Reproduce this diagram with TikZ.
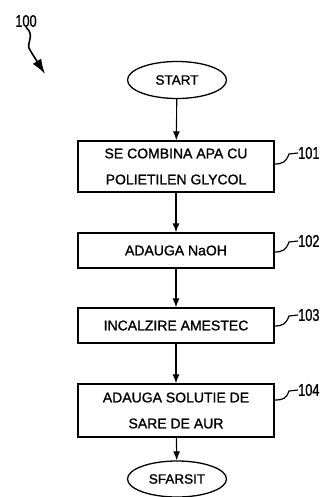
\documentclass[tikz,border=0pt]{standalone}
\usepackage{fontspec}
\setmainfont{Liberation Sans}[FakeBold=1.2]
\usepackage{tikz}
\usetikzlibrary{shapes.geometric,arrows.meta,calc}
\newcommand{\refnum}[1]{\scalebox{0.75}[1]{#1}}

\begin{document}
\begin{tikzpicture}[x=1pt,y=-1pt,
            stepbox/.style={draw, line width=1.4pt, minimum width=196pt, align=center,
                inner sep=0pt, font=\fontsize{14}{26}\selectfont},
            endbox/.style={draw, ellipse, line width=1.3pt, minimum width=99pt,
                minimum height=37pt, inner sep=0pt, font=\fontsize{13.5}{16}\selectfont},
            flow/.style={-{Latex[length=9pt,width=7pt]}, line width=1.1pt},
            tag/.style={line width=1.2pt},
            refnode/.style={anchor=west, inner sep=0pt, font=\fontsize{17}{17}\selectfont}]
            \useasboundingbox (0,0) rectangle (323,497);
            \node[refnode, anchor=center] (n100) at (26,21) {\refnum{100}};
            \coordinate (p100) at (45,74);
            \draw[tag, line width=1.6pt, -{Latex[length=15pt,width=10pt]}] (n100.south) .. controls (36,36) and (25,44) .. (30,50) .. controls (33,55) .. (p100);
            \node[endbox] (start) at (177,80) {START};
            \node[stepbox, minimum height=51pt] (s101) at (176,166.5) {SE COMBINA APA CU\\POLIETILEN GLYCOL};
            \node[stepbox, minimum height=35pt] (s102) at (176,250.5) {ADAUGA NaOH};
            \node[stepbox, minimum height=35pt] (s103) at (176,325.5) {INCALZIRE AMESTEC};
            \node[stepbox, minimum height=53pt] (s104) at (176,410.5) {ADAUGA SOLUTIE DE\\SARE DE AUR};
            \node[endbox, minimum height=36pt] (stop) at (177,479) {SFARSIT};
            \draw[flow] (start) -- (s101);
            \draw[flow] (s101) -- (s102);
            \draw[flow] (s102) -- (s103);
            \draw[flow] (s103) -- (s104);
            \draw[flow] (s104) -- (stop);
            \node[refnode] (n101) at (298,153) {\refnum{101}};
            \node[refnode] (n102) at (298,241) {\refnum{102}};
            \node[refnode] (n103) at (298,315) {\refnum{103}};
            \node[refnode] (n104) at (298,390) {\refnum{104}};
            \coordinate (t101) at (274,164);
            \coordinate (t102) at (274,252);
            \coordinate (t103) at (274,326);
            \coordinate (t104) at (274,400);
            \foreach \i in {101,102,103,104}
                \draw[tag] (t\i) .. controls +(9,0) and +(-3,8) .. ($(n\i.west)+(-9,1)$) -- (n\i.west);
        \end{tikzpicture}
\end{document}
